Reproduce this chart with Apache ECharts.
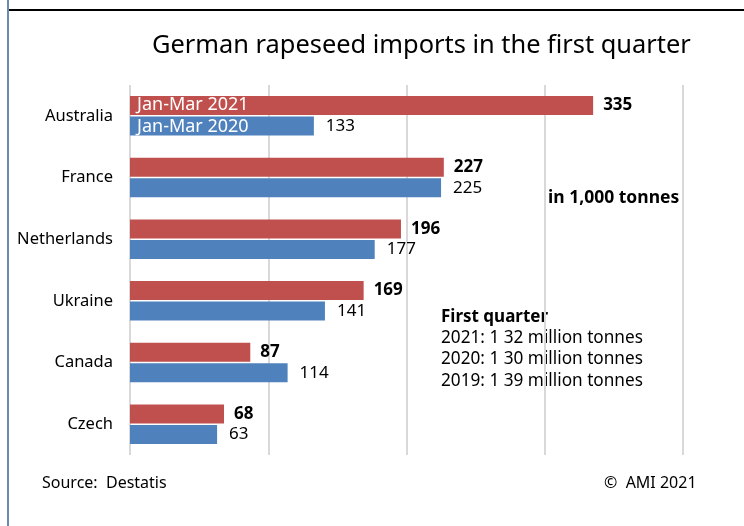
<!DOCTYPE html>
<html>
<head>
<meta charset="utf-8">
<script src="https://cdn.jsdelivr.net/npm/echarts@6/dist/echarts.min.js"></script>
<style>
html,body{margin:0;padding:0;background:#fff;}
#c{width:744px;height:526px;}
</style>
</head>
<body>
<div id="c"></div>
<script>
const categories = ['Australia', 'France', 'Netherlands', 'Ukraine', 'Canada', 'Czech'];
const seriesNames = ['Jan-Mar 2021', 'Jan-Mar 2020'];
const values2021 = [335, 227, 196, 169, 87, 68];
const values2020 = [133, 225, 177, 141, 114, 63];
const axisTicks = [0, 100, 200, 300, 400];
const notes = ['2021: 1 32 million tonnes', '2020: 1 30 million tonnes', '2019: 1 39 million tonnes'];

const FONT = '"Noto Sans", "Open Sans", sans-serif';
const chart = echarts.init(document.getElementById('c'));
chart.setOption({
  animation: false,
  backgroundColor: '#fff',
  textStyle: { fontFamily: FONT },
  title: {
    text: 'German rapeseed imports in the first quarter',
    left: 152, top: 33, padding: 0,
    textStyle: { fontFamily: FONT, fontSize: 25.4, fontWeight: 'normal', color: '#000' }
  },
  legend: {
    orient: 'vertical', left: 132, top: 96, itemGap: 4, padding: 0,
    icon: 'none', itemWidth: 0, itemHeight: 18,
    data: seriesNames,
    selectedMode: false,
    textStyle: { color: '#fff', fontSize: 18, fontFamily: FONT, padding: [0, 0, 0, 0] }
  },
  grid: { left: 130, right: 61, top: 85, bottom: 71, containLabel: false },
  xAxis: {
    type: 'value', min: axisTicks[0], max: axisTicks[axisTicks.length - 1], interval: 100,
    axisLabel: { show: false }, axisTick: { show: false }, axisLine: { show: false },
    splitLine: { show: true, lineStyle: { color: '#d9d9d9', width: 2 } }
  },
  yAxis: {
    type: 'category', data: categories, inverse: true,
    axisTick: { show: false }, axisLine: { show: false },
    axisLabel: { fontSize: 16.5, color: '#000', margin: 17, fontFamily: FONT, padding: [5, 0, 0, 0] }
  },
  series: [
    {
      name: seriesNames[0], type: 'bar', data: values2021, barWidth: 19, barGap: '8%',
      itemStyle: { color: '#C0504D' },
      label: { show: true, position: 'right', distance: 10, fontSize: 17, fontWeight: 'bold', color: '#000', fontFamily: FONT }
    },
    {
      name: seriesNames[1], type: 'bar', data: values2020, barWidth: 19,
      itemStyle: { color: '#4F81BD' },
      label: { show: true, position: 'right', distance: 12, fontSize: 17, color: '#000', fontFamily: FONT }
    }
  ],
  graphic: [
    { type: 'rect', shape: { x: 7, y: 0, width: 2, height: 526 }, style: { fill: '#6b8bb0' }, silent: true },
    { type: 'rect', shape: { x: 9, y: 9, width: 735, height: 2 }, style: { fill: '#000' }, silent: true },
    { type: 'text', left: 548, top: 189, style: { text: 'in 1,000 tonnes', font: 'bold 17.5px ' + FONT, fill: '#000' } },
    { type: 'text', left: 441, top: 309, style: { text: 'First quarter', font: 'bold 17px ' + FONT, fill: '#000' } },
    { type: 'text', left: 441, top: 330, style: { text: notes[0], font: '17.2px ' + FONT, fill: '#000' } },
    { type: 'text', left: 441, top: 351, style: { text: notes[1], font: '17.2px ' + FONT, fill: '#000' } },
    { type: 'text', left: 441, top: 373, style: { text: notes[2], font: '17.2px ' + FONT, fill: '#000' } },
    { type: 'text', left: 42, top: 475, style: { text: 'Source:  Destatis', font: '16px ' + FONT, fill: '#000' } },
    { type: 'text', left: 604, top: 475, style: { text: '©  AMI 2021', font: '16px ' + FONT, fill: '#000' } }
  ]
});
</script>
</body>
</html>
